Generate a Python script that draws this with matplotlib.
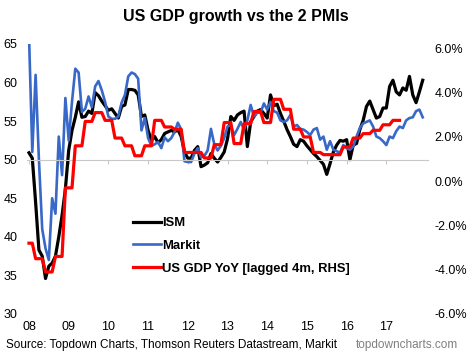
import matplotlib.pyplot as plt
import numpy as np

plt.rcParams['font.family'] = ['Liberation Sans', 'DejaVu Sans']
plt.rcParams['axes.unicode_minus'] = False

# monthly PMI readings (first point sits on the "08" tick)
ism = [50.9, 50.2, 44.5, 38.3, 37.5, 34.6, 36.2, 36.6, 37.5, 40.0,
       42.8, 46.2, 51.2, 53.8, 55.5, 57.5, 55.5, 55.6, 56.3, 56.0,
       58.7, 58.3, 57.6, 57.0, 56.4, 56.6, 56.0, 55.4, 56.9, 57.1,
       59.1, 59.1, 59.0, 58.4, 55.6, 55.8, 53.8, 52.5, 53.0, 52.2,
       52.6, 53.4, 53.6, 53.8, 53.6, 53.9, 53.0, 51.0, 50.2, 50.2,
       51.2, 51.7, 49.1, 49.3, 49.6, 50.8, 50.2, 49.7, 50.3, 51.0,
       52.7, 55.6, 55.1, 55.8, 56.1, 56.3, 51.7, 54.9, 55.6, 56.3,
       56.5, 56.0, 55.4, 58.4, 57.0, 57.2, 56.0, 55.0, 53.9, 53.0,
       52.0, 51.7, 52.6, 52.4, 51.8, 51.3, 50.8, 50.4, 49.9, 49.4,
       48.1, 49.5, 51.0, 51.9, 52.5, 52.4, 52.6, 50.0, 51.9, 52.1,
       53.9, 55.1, 56.9, 57.6, 56.5, 55.4, 55.6, 56.7, 56.7, 59.5,
       60.3, 58.8, 58.4, 59.3, 59.0, 60.8, 58.4, 57.4, 58.8, 60.3]

markit = [66.2, 51.0, 61.0, 50.0, 41.0, 38.5, 37.0, 45.0, 43.0, 53.0,
          48.0, 58.0, 52.5, 57.5, 61.8, 61.3, 56.2, 56.6, 58.2, 56.8,
          59.5, 60.2, 59.0, 57.5, 55.6, 55.3, 55.3, 55.6, 57.4, 58.4,
          60.8, 61.3, 61.1, 60.5, 53.8, 55.4, 52.8, 51.8, 52.0, 52.3,
          51.5, 52.9, 52.4, 52.8, 53.6, 54.8, 53.9, 49.8, 49.7, 49.7,
          50.8, 51.5, 50.3, 50.5, 51.2, 54.0, 52.0, 51.2, 51.8, 52.8,
          54.3, 54.5, 53.2, 54.0, 54.9, 53.9, 55.1, 57.1, 55.6, 56.1,
          56.1, 57.3, 56.5, 57.5, 56.3, 56.1, 55.1, 54.9, 55.1, 55.8,
          54.3, 54.5, 54.0, 53.9, 53.6, 53.2, 53.9, 54.1, 52.6, 53.0,
          51.3, 52.4, 51.3, 51.1, 50.9, 51.9, 51.5, 51.3, 51.7, 53.0,
          54.1, 54.7, 54.9, 55.1, 54.3, 53.0, 52.8, 52.4, 51.9, 53.0,
          52.8, 53.7, 54.3, 54.1, 55.1, 55.4, 55.5, 56.3, 56.5, 55.5]

# US GDP YoY %, quarterly values held flat for each month (first step is 2 months)
gdp_q = [-2.8, -3.5, -4.1, -3.4, -0.3, 1.6, 2.7, 3.1, 2.75, 1.95,
         1.6, 1.15, 1.6, 2.75, 2.45, 2.35, 1.3, 1.3, 1.05, 1.65,
         2.65, 1.7, 2.6, 3.15, 2.65, 3.7, 3.25, 2.35, 2.0, 1.3,
         1.2, 1.2, 1.55, 1.95, 2.15, 2.3, 2.55, 2.75]
gdp = np.repeat(gdp_q, [2] + [3] * (len(gdp_q) - 1))

years = ['08', '09', '10', '11', '12', '13', '14', '15', '16', '17']

months = 2008 + np.arange(len(ism)) / 12.0
gdp_months = 2008 + np.arange(len(gdp)) / 12.0
year_ticks = 2008 + np.arange(len(years))

fig = plt.figure(figsize=(4.7, 3.56), dpi=100)
ax = fig.add_axes([27 / 470, 42 / 356, 401 / 470, 270 / 356])
ax2 = ax.twinx()

l1, = ax.plot(months, ism, color='black', lw=2.3, label='ISM')
l2, = ax.plot(months, markit, color='#3868c8', lw=1.9, label='Markit')
l3, = ax2.plot(gdp_months, gdp, color='#ff0000', lw=2.3,
               label='US GDP YoY [lagged 4m, RHS]')

ax.set_xlim(2007.95, 2018.05)
ax.set_ylim(30, 65)
ax2.set_ylim(-6, 6.2)

ax.set_yticks(np.arange(30, 66, 5))
ax2.set_yticks(np.arange(-6, 7, 2))
ax2.set_yticklabels(['%.1f%%' % v for v in np.arange(-6, 7, 2)])

for a in (ax, ax2):
    for s in ['top', 'left', 'right']:
        a.spines[s].set_visible(False)
ax2.spines['bottom'].set_visible(False)

# x axis line runs through 50 with small ticks, labels sit at the bottom
ax.spines['bottom'].set_position(('data', 50))
ax.spines['bottom'].set_color('#c8c8c8')
ax.set_xticks(year_ticks)
ax.tick_params(axis='x', length=3, color='#c8c8c8', labelbottom=False)
sec = ax.secondary_xaxis('bottom')
sec.set_xticks(year_ticks)
sec.set_xticklabels(years)
sec.spines['bottom'].set_visible(False)
sec.tick_params(length=0, labelsize=9, pad=5)

ax.tick_params(axis='y', length=0, labelsize=9, pad=7)
ax2.tick_params(axis='y', length=0, labelsize=9, pad=4.5)

leg = ax.legend(handles=[l1, l2, l3], loc='upper left',
                bbox_to_anchor=(101 / 401, 1 - 168 / 270), frameon=False,
                prop={'weight': 'bold', 'size': 9.4}, handlelength=2.1,
                handletextpad=0.1, labelspacing=0.8, borderaxespad=0)

fig.text(0.502, 1 - 16 / 356, 'US GDP growth vs the 2 PMIs', ha='center',
         va='center', fontsize=11.5, fontweight='bold')
fig.text(6 / 470, 1 - 345 / 356,
         'Source: Topdown Charts, Thomson Reuters Datastream, Markit',
         ha='left', va='center', fontsize=8.5)
fig.text(458 / 470, 1 - 345 / 356, 'topdowncharts.com', ha='right',
         va='center', fontsize=8.5, color='#7f7f7f')

fig.savefig('out.png', dpi=100)
